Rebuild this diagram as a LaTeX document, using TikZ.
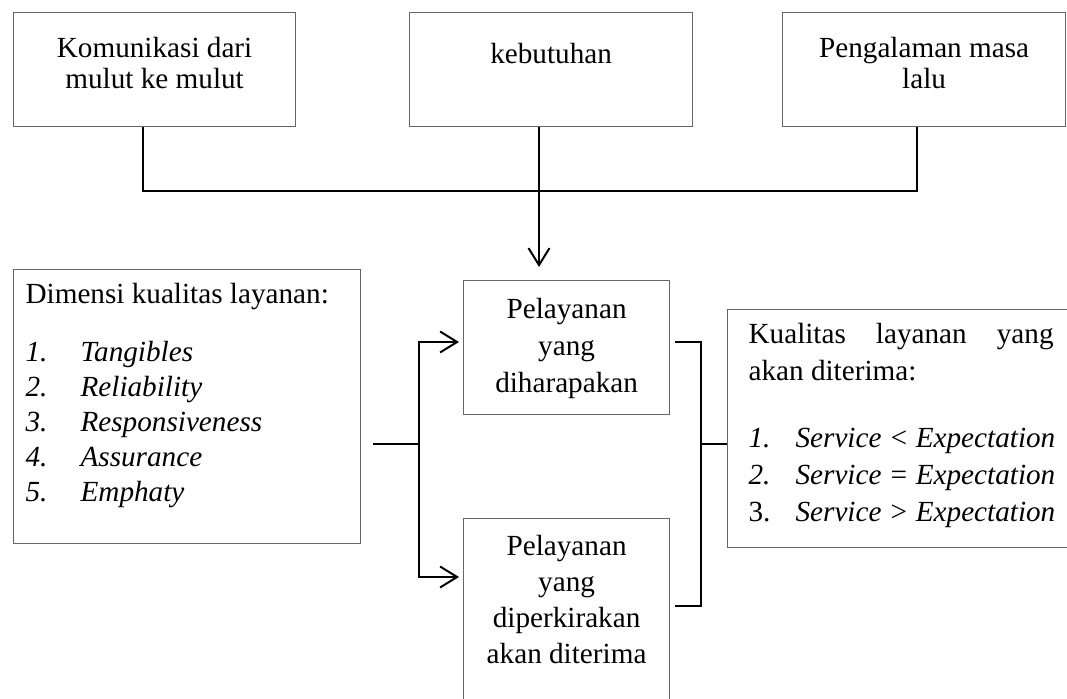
\documentclass[tikz,border=0pt]{standalone}
\usepackage{fontspec}
\setmainfont{Liberation Serif}
\usetikzlibrary{arrows.meta}
\newlength{\pxu}\setlength{\pxu}{0.5pt}
% text in a box of w x h, first baseline, line skip
\newcommand{\BoxText}[5]{\parbox[c][#2\pxu][t]{#1\pxu}{\fontsize{14.6}{#4\pxu}\selectfont\centering\rule{0pt}{#3\pxu}#5\par}}
\newcommand{\ListText}[6]{\parbox[c][#2\pxu][t]{#1\pxu}{\fontsize{14.6}{#4\pxu}\selectfont\raggedright\leftskip=#5\pxu\rule{0pt}{#3\pxu}#6\par}}
\newcommand{\Num}[2]{\makebox[#1\pxu][l]{#2}}
\begin{document}
\begin{tikzpicture}
[
x=\pxu, y=-\pxu,
Box/.style={rectangle, draw=black!60, line width=0.6pt, inner sep=0pt, anchor=north west},
Connector/.style={draw=black, line width=1pt},
Arrow/.style={Connector, -{Straight Barb[length=8.5pt,width=10.5pt]}},
]
\clip (0,0) rectangle (1067,699);

\node[Box] (kom)  at ( 13,12) {\BoxText{282}{114}{45}{31}{Komunikasi dari\\mulut ke mulut}};
\node[Box] (keb)  at (409,12) {\BoxText{283}{114}{51}{31}{kebutuhan}};
\node[Box] (peng) at (782,12) {\BoxText{283}{114}{45}{31}{Pengalaman masa\\lalu}};

\node[Box] (harap) at (463,280) {\BoxText{206}{134}{38}{37}{Pelayanan\\yang\\diharapakan}};
\node[Box] (kira)  at (463,518) {\BoxText{206}{190}{37}{36}{Pelayanan\\yang\\diperkirakan\\akan diterima}};

\node[Box] (dim) at (13,269) {\ListText{347}{274}{34}{35}{12}{Dimensi kualitas layanan:\\[23\pxu]
  \Num{55}{\textit{1.}}\textit{Tangibles}\\
  \Num{55}{\textit{2.}}\textit{Reliability}\\
  \Num{55}{\textit{3.}}\textit{Responsiveness}\\
  \Num{55}{\textit{4.}}\textit{Assurance}\\
  \Num{55}{\textit{5.}}\textit{Emphaty}}};

\node[Box] (kual) at (727,309) {\ListText{348}{238}{34}{37}{21}{\makebox[305\pxu][s]{Kualitas layanan yang}\\
  akan diterima:\\[30\pxu]
  \Num{47}{\textit{1.}}\textit{Service < Expectation}\\
  \Num{47}{\textit{2.}}\textit{Service = Expectation}\\
  \Num{47}{3.}\textit{Service > Expectation}}};

% top bus
\coordinate (busL) at (143,191);
\coordinate (busM) at (539,191);
\coordinate (busR) at (917,191);
\draw[Connector] (kom.south -| busL) -- (busL) -- (busR) -- (peng.south -| busR);
\draw[Connector] (keb.south -| busM) -- (busM);
\draw[Arrow, shorten >=6.5pt] (busM) -- (busM |- harap.north);

% left fork
\coordinate (fork)    at (419,444);
\coordinate (forkTop) at (419,342);
\coordinate (forkBot) at (419,577);
\draw[Connector, shorten <=6pt] (dim.east |- fork) -- (fork);
\draw[Arrow, shorten >=2pt] (fork) |- (forkTop -| harap.west);
\draw[Arrow, shorten >=2pt] (fork) |- (forkBot -| kira.west);

% right bracket
\coordinate (brTop) at (701,342);
\coordinate (brMid) at (701,444);
\coordinate (brBot) at (701,606);
\draw[Connector, shorten <=2.5pt, shorten >=2.5pt] (brTop -| harap.east) -- (brTop) -- (brBot) -- (brBot -| kira.east);
\draw[Connector] (brMid) -- (kual.west |- brMid);

\end{tikzpicture}
\end{document}
